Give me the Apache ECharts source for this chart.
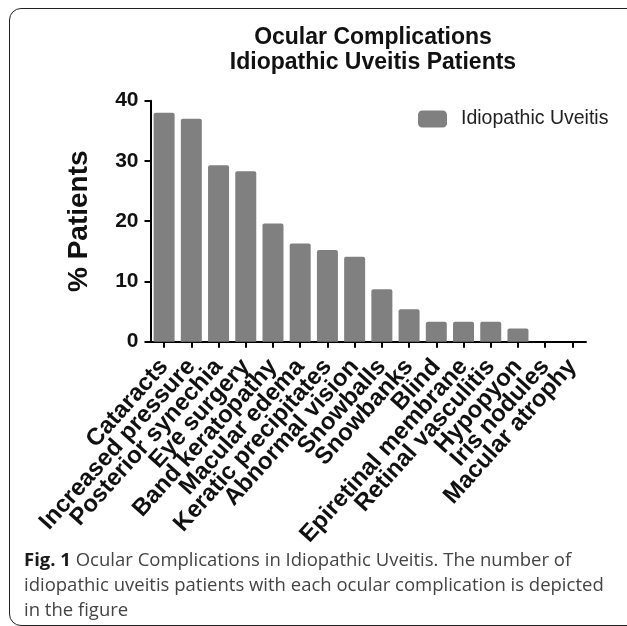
<!DOCTYPE html>
<html>
<head>
<meta charset="utf-8">
<script src="https://cdn.jsdelivr.net/npm/echarts@6/dist/echarts.min.js"></script>
<style>
  html, body { margin: 0; padding: 0; background: #fff; }
  #wrap { position: relative; width: 627px; height: 626px; overflow: hidden; }
  #chart { position: absolute; left: 0; top: 0; width: 627px; height: 626px; }
  #frame {
    position: absolute; left: 9px; top: 8px; width: 640px; height: 618px;
    border: 1.5px solid #222; border-radius: 12px; box-sizing: border-box;
    pointer-events: none;
  }
  #caption {
    position: absolute; left: 24px; top: 546px; width: 600px;
    font-family: "Open Sans", sans-serif; font-size: 18.5px; line-height: 25px;
    color: #444; white-space: nowrap;
  }
  #caption b { color: #1a1a1a; }
</style>
</head>
<body>
<div id="wrap">
  <div id="chart"></div>
  <div id="frame"></div>
  <div id="caption"><b>Fig. 1</b> Ocular Complications in Idiopathic Uveitis. The number of<br>idiopathic uveitis patients with each ocular complication is depicted<br>in the figure</div>
</div>
<script>
// 眼部并发症 (% patients)
const categories = [
  "Cataracts", "Increased pressure", "Posterior synechia", "Eye surgery",
  "Band keratopathy", "Macular edema", "Keratic precipitates", "Abnormal vision",
  "Snowballs", "Snowbanks", "Blind", "Epiretinal membrane",
  "Retinal vasculitis", "Hypopyon", "Iris nodules", "Macular atrophy"
]
const percentPatients = [38.0, 37.0, 29.3, 28.3, 19.6, 16.3, 15.2, 14.1, 8.7, 5.4, 3.3, 3.3, 3.3, 2.2, 0, 0]
const yTicks = [0, 10, 20, 30, 40]

const font = "'Liberation Sans', Arial, sans-serif"
const myChart = echarts.init(document.getElementById("chart"), null, { renderer: "canvas" })

const option = {
  backgroundColor: "#fff",
  animation: false,
  title: {
    text: "Ocular Complications\nIdiopathic Uveitis Patients",
    left: 368,
    top: 20,
    textAlign: "center",
    textStyle: {
      fontFamily: font,
      fontSize: 23,
      fontWeight: "bold",
      color: "#111",
      lineHeight: 25
    }
  },
  legend: {
    data: ["Idiopathic Uveitis"],
    left: 413,
    top: 104,
    icon: "roundRect",
    itemWidth: 29,
    itemHeight: 17,
    textStyle: {
      fontFamily: font,
      fontSize: 19.5,
      color: "#222",
      padding: [0, 0, 0, 9]
    }
  },
  grid: {
    left: 150.5,
    right: 41,
    top: 100.7,
    bottom: 284.3
  },
  xAxis: {
    type: "category",
    data: categories,
    axisLine: { show: true, lineStyle: { color: "#000", width: 2 } },
    axisTick: { show: true, alignWithLabel: true, length: 6, lineStyle: { color: "#000", width: 2 } },
    axisLabel: {
      interval: 0,
      rotate: 48,
      margin: 21,
      fontFamily: font,
      fontSize: 24,
      fontWeight: "bold",
      color: "#111"
    }
  },
  yAxis: {
    type: "value",
    min: yTicks[0],
    max: yTicks[yTicks.length - 1],
    interval: 10,
    name: "% Patients",
    nameLocation: "middle",
    nameGap: 57,
    nameTextStyle: {
      fontFamily: font,
      fontSize: 28,
      fontWeight: "bold",
      color: "#111"
    },
    splitLine: { show: false },
    axisLine: { show: true, lineStyle: { color: "#000", width: 2 } },
    axisTick: { show: true, length: 6, lineStyle: { color: "#000", width: 2 } },
    axisLabel: {
      margin: 12,
      fontFamily: font,
      fontSize: 21,
      fontWeight: "bold",
      color: "#111"
    }
  },
  series: [
    {
      name: "Idiopathic Uveitis",
      type: "bar",
      barWidth: 21,
      data: percentPatients,
      itemStyle: {
        color: "#808080",
        borderRadius: [2, 2, 0, 0]
      }
    }
  ]
}

myChart.setOption(option)
</script>
</body>
</html>
